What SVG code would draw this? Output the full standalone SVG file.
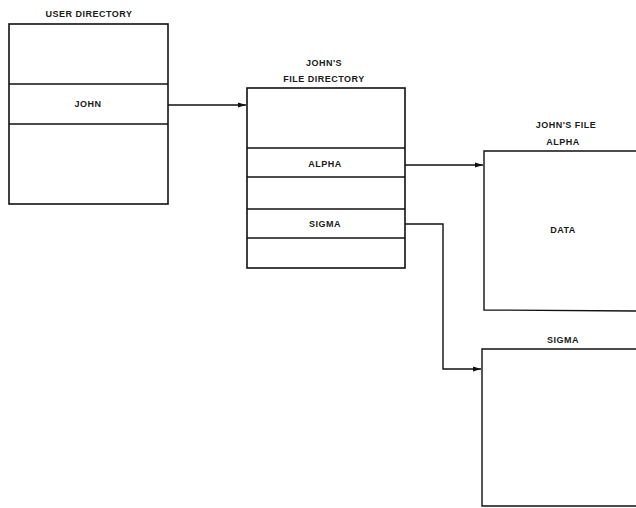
<svg xmlns="http://www.w3.org/2000/svg" width="636" height="508" viewBox="0 0 636 508">
<style>
.box{fill:#fff;stroke:#111;stroke-width:1.6}
.div{stroke:#111;stroke-width:1.6}
.con{fill:none;stroke:#111;stroke-width:1.4}
text{font-family:"Liberation Sans","DejaVu Sans",sans-serif;font-size:9px;font-weight:bold;fill:#1a1a1a;text-anchor:middle;letter-spacing:0.5px}
</style>
<defs>
<marker id="ah" viewBox="0 0 8 6" refX="8" refY="3" markerWidth="8" markerHeight="6" markerUnits="userSpaceOnUse" orient="auto">
<path d="M0,0.5 L8,3 L0,5.5 z" fill="#111"/>
</marker>
</defs>
<g id="user-directory">
<text x="89" y="17">USER DIRECTORY</text>
<rect class="box" x="9" y="24" width="159" height="180"/>
<line class="div" x1="9" y1="84" x2="168" y2="84"/>
<line class="div" x1="9" y1="124" x2="168" y2="124"/>
<text x="88" y="107">JOHN</text>
</g>
<g id="johns-file-directory">
<text x="324" y="66">JOHN'S</text>
<text x="324" y="82">FILE DIRECTORY</text>
<rect class="box" x="247" y="88" width="158" height="180"/>
<line class="div" x1="247" y1="148" x2="405" y2="148"/>
<line class="div" x1="247" y1="177" x2="405" y2="177"/>
<line class="div" x1="247" y1="209" x2="405" y2="209"/>
<line class="div" x1="247" y1="238" x2="405" y2="238"/>
<text x="325" y="167">ALPHA</text>
<text x="325" y="227">SIGMA</text>
</g>
<g id="alpha-file">
<text x="566" y="128">JOHN'S FILE</text>
<text x="563" y="145">ALPHA</text>
<path class="con" d="M640,151 L484,151 L484,310 L640,311"/>
<text x="563" y="233">DATA</text>
</g>
<g id="sigma-file">
<text x="563" y="343">SIGMA</text>
<path class="con" d="M640,349 L482,349 L482,506 L640,506"/>
</g>
<g id="connectors">
<path class="con" d="M168,105 L246,105" marker-end="url(#ah)"/>
<path class="con" d="M405,165 L483,165" marker-end="url(#ah)"/>
<path class="con" d="M405,224 L443,224 L443,369 L481,369" marker-end="url(#ah)"/>
</g>
</svg>
